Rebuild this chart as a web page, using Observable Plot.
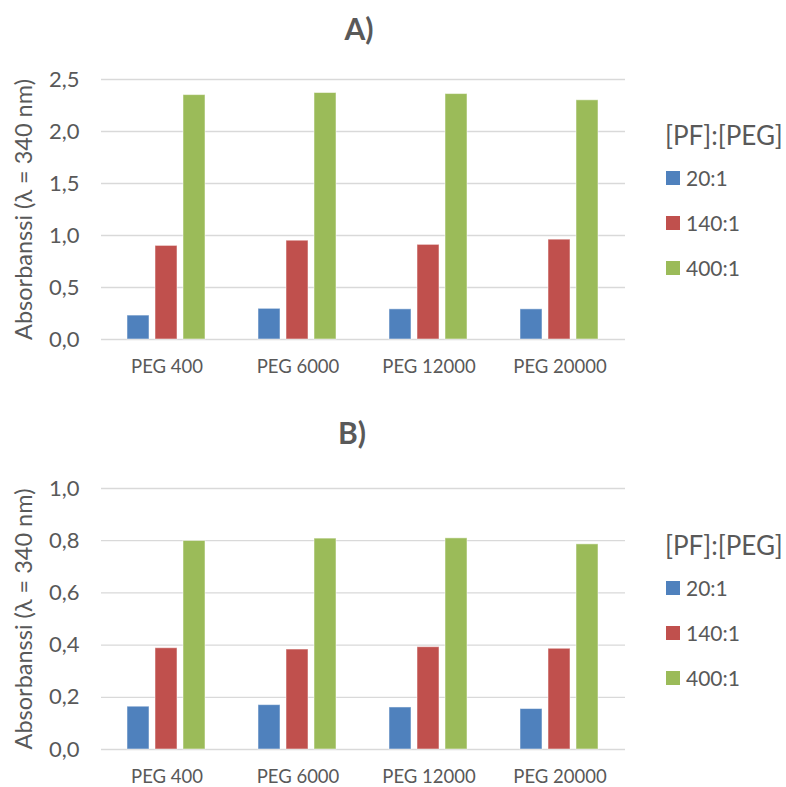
<!DOCTYPE html>
<html>
<head>
<meta charset="utf-8">
<script src="https://cdn.jsdelivr.net/npm/d3@7"></script>
<script src="https://cdn.jsdelivr.net/npm/@observablehq/plot@0.6"></script>
<style>
  body { margin: 0; background: #fff; }
  #chart { position: relative; width: 786px; height: 787px; font-family: Lato, sans-serif; color: #595959; overflow: hidden; }
  .plotbox { position: absolute; left: 0; }
  .title { position: absolute; width: 200px; text-align: center; font-weight: bold; font-size: 30px; line-height: 30px; }
  .legend-title { position: absolute; font-size: 26px; line-height: 28px; white-space: nowrap; }
  .legend-row { position: absolute; display: flex; align-items: center; height: 22px; font-size: 21px; line-height: 22px; white-space: nowrap; }
  .swatch { width: 14px; height: 14px; margin-right: 6px; }
</style>
</head>
<body>
<div id="chart"></div>
<script>
// Categories and series
const pegs = ["PEG 400", "PEG 6000", "PEG 12000", "PEG 20000"];
const ratios = ["20:1", "140:1", "400:1"];
const ratioColors = ["#4F81BD", "#C0504D", "#9BBB59"];
const legendTitle = "[PF]:[PEG]";
const yLabel = "Absorbanssi (λ = 340 nm)";

// Panel A) absorbance per PEG, one array per ratio
const a20 = [0.23, 0.295, 0.29, 0.29];
const a140 = [0.90, 0.95, 0.91, 0.96];
const a400 = [2.35, 2.37, 2.36, 2.30];
const ticksA = [0, 0.5, 1.0, 1.5, 2.0, 2.5];

// Panel B)
const b20 = [0.164, 0.170, 0.161, 0.155];
const b140 = [0.388, 0.383, 0.392, 0.386];
const b400 = [0.799, 0.808, 0.809, 0.786];
const ticksB = [0, 0.2, 0.4, 0.6, 0.8, 1.0];

const chart = document.getElementById("chart");

function toRows(series) {
  const rows = [];
  pegs.forEach((peg, i) => ratios.forEach((ratio, j) => rows.push({peg, ratio, value: series[j][i]})));
  return rows;
}

function makePlot(series, ticks, height, marginTop, marginBottom) {
  const rows = toRows(series);
  return Plot.plot({
    width: 786,
    height,
    marginLeft: 100,
    marginRight: 161,
    marginTop,
    marginBottom,
    style: {fontFamily: "Lato, sans-serif", fontSize: "18.5px", color: "#595959", background: "transparent"},
    fx: {domain: pegs, padding: 0, label: null, tickSize: 0, tickPadding: 20},
    x: {domain: ratios, paddingInner: 0.207, paddingOuter: 0.867, axis: null},
    y: {domain: [0, ticks[ticks.length - 1]]},
    color: {domain: ratios, range: ratioColors},
    marks: [
      Plot.gridY(ticks, {stroke: "#d9d9d9", strokeOpacity: 1, strokeWidth: 1.3}),
      // tick labels
      Plot.axisY({
        ticks,
        tickFormat: d => d.toFixed(1).replace(".", ","),
        tickSize: 0,
        tickPadding: 22,
        fontSize: 22,
        label: null
      }),
      // axis title
      Plot.axisY({
        ticks: [],
        tickSize: 0,
        fontSize: 23.5,
        label: yLabel,
        labelAnchor: "center",
        labelArrow: "none",
        labelOffset: 86
      }),
      Plot.barY(rows, {fx: "peg", x: "ratio", y: "value", fill: "ratio", stroke: "#fff", strokeOpacity: 0.5, strokeWidth: 1})
    ]
  });
}

function addPanel(top, svgHeight, marginTop, marginBottom, series, ticks, titleText, titleCenter, titleTop) {
  const box = document.createElement("div");
  box.className = "plotbox";
  box.style.top = top + "px";
  box.appendChild(makePlot(series, ticks, svgHeight, marginTop, marginBottom));
  chart.appendChild(box);

  const title = document.createElement("div");
  title.className = "title";
  title.textContent = titleText;
  title.style.left = (titleCenter - 100) + "px";
  title.style.top = titleTop + "px";
  chart.appendChild(title);

  // Legend to the right of the plot
  const lt = document.createElement("div");
  lt.className = "legend-title";
  lt.textContent = legendTitle;
  lt.style.left = "665px";
  lt.style.top = (top + 75 - 14) + "px";
  chart.appendChild(lt);
  ratios.forEach((r, i) => {
    const row = document.createElement("div");
    row.className = "legend-row";
    row.style.left = "666px";
    row.style.top = (top + 118 + 45 * i - 11) + "px";
    const sw = document.createElement("span");
    sw.className = "swatch";
    sw.style.background = ratioColors[i];
    row.appendChild(sw);
    row.appendChild(document.createTextNode(r));
    chart.appendChild(row);
  });
}

addPanel(60, 340, 19, 61, [a20, a140, a400], ticksA, "A)", 359, 13);
addPanel(470, 317, 18, 38, [b20, b140, b400], ticksB, "B)", 352, 417);
</script>
</body>
</html>
